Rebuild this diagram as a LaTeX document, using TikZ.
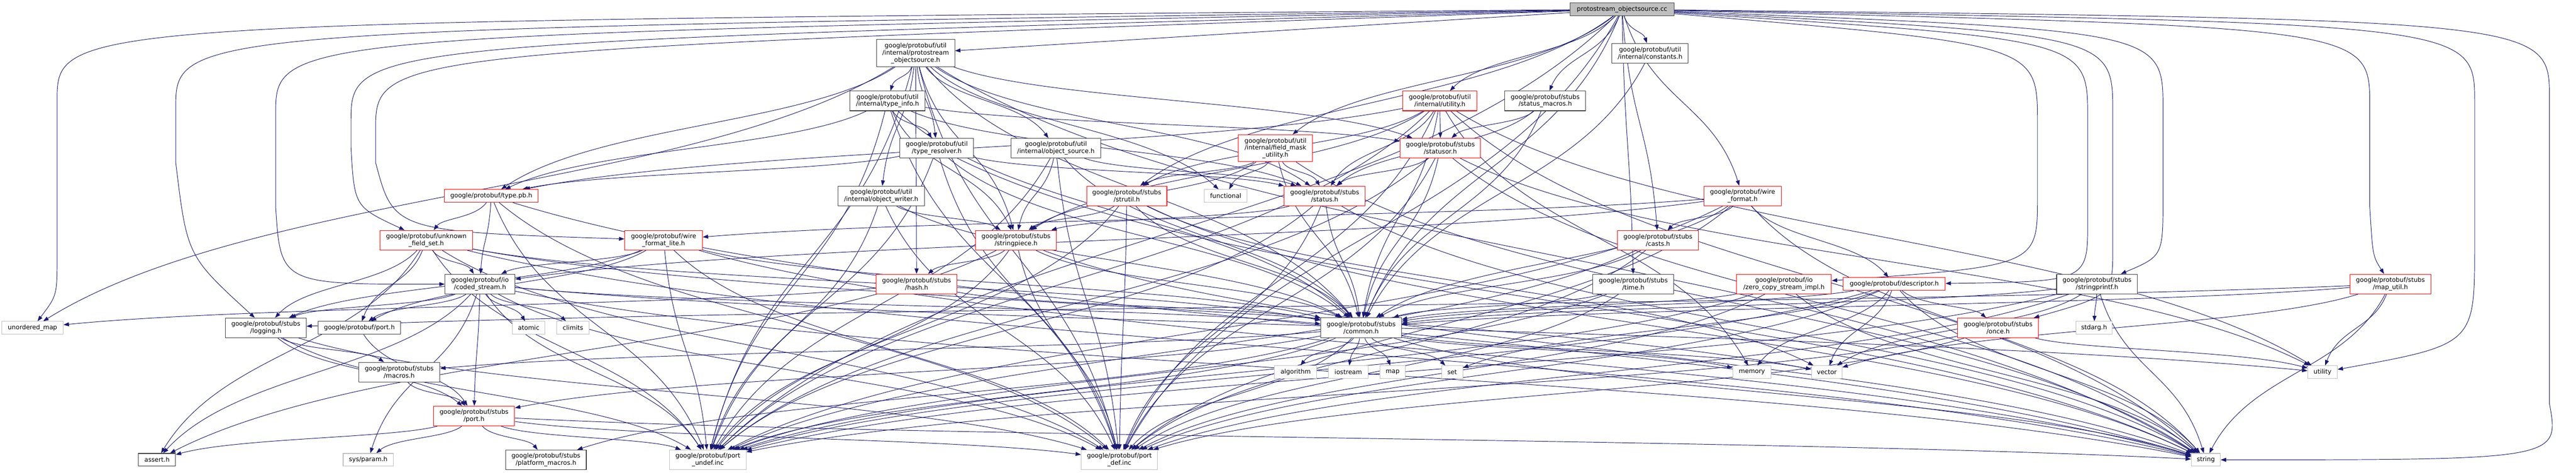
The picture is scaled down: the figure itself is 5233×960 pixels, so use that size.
\documentclass[tikz,border=0pt]{standalone}
\usepackage{fontspec}
\newfontfamily\nodefontfam{DejaVu Sans}
\newcommand\nodefont{\nodefontfam\fontsize{12.7}{14.3}\selectfont}
\usetikzlibrary{arrows.meta}
\definecolor{edgecol}{HTML}{191970}
\pgfdeclarelayer{bg}
\pgfsetlayers{bg,main}
\tikzset{
 box/.style={draw, rectangle, inner sep=0pt, align=center, font=\nodefont, line width=1.1pt, fill=white},
 blk/.style={box, draw=black!75},
 redb/.style={box, draw=red},
 gry/.style={box, draw=black!25},
 rootbox/.style={box, draw=black!75, fill=black!25},
 edge/.style={draw=edgecol, line width=1pt, -{Triangle[length=11pt,width=8pt]}},
}
\newcommand\Nd[7]{%
 \node[#6,minimum width=#4pt,minimum height=#5pt] (#1) at (#2,#3) {#7};%
 \expandafter\xdef\csname NX@#1\endcsname{#2}%
 \expandafter\xdef\csname NY@#1\endcsname{#3}}
\newcommand\Eget[2]{%
 \pgfmathsetmacro\Eax{\csname NX@#1\endcsname}%
 \pgfmathsetmacro\Eay{\csname NY@#1\endcsname}%
 \pgfmathsetmacro\Ebx{\csname NX@#2\endcsname}%
 \pgfmathsetmacro\Eby{\csname NY@#2\endcsname}}
% S-shaped edge between ranks
\newcommand\Ed[3][]{\Eget{#2}{#3}%
 \pgfmathsetmacro\Ecax{\Eax+0.25*(\Ebx-\Eax)}%
 \pgfmathsetmacro\Ecbx{\Ebx-0.25*(\Ebx-\Eax)}%
 \pgfmathsetmacro\Ecy{0.5*(\Eay+\Eby)}%
 \draw[edge,#1] (#2) .. controls (\Ecax,\Ecy) and (\Ecbx,\Ecy) .. (#3);}
% long edge: sideways from source, down a column, then into target
% #2 src, #3 tgt, #4 column x, #5 bottom of the straight part, #6 last control point, #7 height of the top run
\newcommand\Col[7][]{%
 \draw[edge,#1] (#2) .. controls (#4,#7) .. (#4,{#7+160}) -- (#4,#5) .. controls #6 .. (#3);}
\begin{document}
\begin{tikzpicture}[x=1pt,y=-1pt]
\useasboundingbox (0,0) rectangle (5233,960);
% nodes
\Nd{root}{3295}{19}{212}{26}{rootbox}{protostream\_objectsource.cc}
\Nd{psh}{1860}{108}{159}{55}{blk}{google/protobuf/util\\/internal/protostream\\\_objectsource.h}
\Nd{const}{3352}{108}{155}{40}{blk}{google/protobuf/util\\/internal/constants.h}
\Nd{util}{2925}{205}{151}{40}{redb}{google/protobuf/util\\/internal/utility.h}
\Nd{smac}{3139}{205}{164}{40}{blk}{google/protobuf/stubs\\/status\_macros.h}
\Nd{tinfo}{1803}{205}{153}{40}{blk}{google/protobuf/util\\/internal/type\_info.h}
\Nd{tres}{1903}{301}{150}{40}{blk}{google/protobuf/util\\/type\_resolver.h}
\Nd{osrc}{2145}{301}{183}{40}{blk}{google/protobuf/util\\/internal/object\_source.h}
\Nd{fmu}{2591}{301}{151}{55}{redb}{google/protobuf/util\\/internal/field\_mask\\\_utility.h}
\Nd{sor}{2926}{301}{163}{40}{redb}{google/protobuf/stubs\\/statusor.h}
\Nd{owr}{1790}{398}{176}{40}{blk}{google/protobuf/util\\/internal/object\_writer.h}
\Nd{typepb}{998}{398}{191}{26}{redb}{google/protobuf/type.pb.h}
\Nd{strutil}{2289}{398}{163}{40}{redb}{google/protobuf/stubs\\/strutil.h}
\Nd{func}{2490}{398}{87}{26}{gry}{functional}
\Nd{status}{2691}{398}{164}{40}{redb}{google/protobuf/stubs\\/status.h}
\Nd{wf}{3540}{398}{157}{40}{redb}{google/protobuf/wire\\\_format.h}
\Nd{ufs}{866}{488}{188}{40}{redb}{google/protobuf/unknown\\\_field\_set.h}
\Nd{wfl}{1348}{488}{158}{40}{redb}{google/protobuf/wire\\\_format\_lite.h}
\Nd{sp}{2064}{488}{164}{40}{redb}{google/protobuf/stubs\\/stringpiece.h}
\Nd{casts}{3368}{488}{164}{40}{redb}{google/protobuf/stubs\\/casts.h}
\Nd{cs}{975}{577}{142}{40}{blk}{google/protobuf/io\\/coded\_stream.h}
\Nd{hash}{1862}{577}{164}{40}{redb}{google/protobuf/stubs\\/hash.h}
\Nd{time}{3318}{577}{164}{40}{blk}{google/protobuf/stubs\\/time.h}
\Nd{zcs}{3624}{577}{193}{40}{redb}{google/protobuf/io\\/zero\_copy\_stream\_impl.h}
\Nd{desc}{3848}{577}{207}{26}{redb}{google/protobuf/descriptor.h}
\Nd{sprintf}{4260}{577}{164}{40}{blk}{google/protobuf/stubs\\/stringprintf.h}
\Nd{mutil}{4856}{577}{164}{40}{redb}{google/protobuf/stubs\\/map\_util.h}
\Nd{umap}{66}{666}{125}{26}{gry}{unordered\_map}
\Nd{log}{540}{666}{164}{40}{blk}{google/protobuf/stubs\\/logging.h}
\Nd{port}{730}{666}{167}{26}{blk}{google/protobuf/port.h}
\Nd{atomic}{1074}{666}{66}{26}{gry}{atomic}
\Nd{climits}{1164}{666}{66}{26}{gry}{climits}
\Nd{common}{2765}{666}{164}{41}{blk}{google/protobuf/stubs\\/common.h}
\Nd{once}{4059}{666}{164}{40}{redb}{google/protobuf/stubs\\/once.h}
\Nd{stdarg}{4254}{666}{73}{26}{gry}{stdarg.h}
\Nd{macros}{811}{756}{165}{40}{blk}{google/protobuf/stubs\\/macros.h}
\Nd{algorithm}{2632}{756}{86}{26}{gry}{algorithm}
\Nd{iostream}{2739}{756}{80}{26}{gry}{iostream}
\Nd{map}{2829}{756}{51}{26}{gry}{map}
\Nd{set}{2950}{756}{43}{26}{gry}{set}
\Nd{memory}{3559}{756}{78}{26}{gry}{memory}
\Nd{vector}{3711}{756}{62}{26}{gry}{vector}
\Nd{utility}{4718}{756}{60}{26}{gry}{utility}
\Nd{sport}{963}{845}{165}{40}{redb}{google/protobuf/stubs\\/port.h}
\Nd{assert}{319}{934}{75}{26}{blk}{assert.h}
\Nd{sysparam}{748}{934}{102}{26}{gry}{sys/param.h}
\Nd{pmac}{1109}{934}{164}{40}{blk}{google/protobuf/stubs\\/platform\_macros.h}
\Nd{pundef}{1438}{934}{155}{40}{gry}{google/protobuf/port\\\_undef.inc}
\Nd{pdef}{2274}{934}{155}{40}{gry}{google/protobuf/port\\\_def.inc}
\Nd{string}{4481}{934}{59}{26}{gry}{string}
\begin{pgfonlayer}{bg}
% root: long edges round the top
\Col{root}{umap}{116}{520}{(116,600)}{45}
\Col{root}{log}{357}{330}{(380,520)}{60}
\Col{root}{cs}{560}{420}{(570,578)}{72}
\Col{root}{ufs}{713}{300}{(720,420)}{88}
\Col{root}{wfl}{763}{330}{(800,470)}{105}
\Col{root}{zcs}{4139}{400}{(4139,540)}{90}
\Col{root}{desc}{4241}{450}{(4241,572)}{80}
\Col{root}{once}{4292}{500}{(4292,600)}{70}
\Col{root}{sprintf}{4394}{400}{(4394,520)}{62}
\Col{root}{mutil}{4814}{420}{(4820,520)}{55}
\Col{root}{utility}{5027}{500}{(5027,700)}{48}
\Col{root}{string}{5179}{820}{(5200,934)}{40}
\draw[edge] (root) -- (psh);
\Ed{root}{const}\Ed{root}{smac}\Ed{root}{util}\Ed{root}{fmu}\Ed{root}{strutil}
\Ed{root}{common}\Ed{root}{casts}\Ed{root}{wf}\Ed{root}{time}\Ed{root}{pdef}\Ed{root}{pundef}
% protostream_objectsource.h
\Ed{psh}{tinfo}\Ed{psh}{tres}\Ed{psh}{osrc}\Ed{psh}{owr}\Ed{psh}{hash}\Ed{psh}{sp}
\Ed{psh}{typepb}\Ed{psh}{status}\Ed{psh}{sor}\Ed{psh}{common}\Ed{psh}{func}
\Ed{psh}{pdef}\Ed{psh}{pundef}\Ed{psh}{umap}\Ed{psh}{string}
% type_info
\Ed{tinfo}{common}\Ed{tinfo}{typepb}\Ed{tinfo}{tres}\Ed{tinfo}{status}\Ed{tinfo}{sor}
\Ed{tinfo}{sp}\Ed{tinfo}{pdef}\Ed{tinfo}{pundef}
% type_resolver
\Ed{tres}{string}\Ed{tres}{typepb}\Ed{tres}{common}\Ed{tres}{status}\Ed{tres}{pdef}\Ed{tres}{pundef}
% object_source / object_writer
\Ed{osrc}{common}\Ed{osrc}{status}\Ed{osrc}{sp}\Ed{osrc}{pdef}\Ed{osrc}{pundef}
\Ed{owr}{common}\Ed{owr}{sp}\Ed{owr}{pdef}\Ed{owr}{pundef}
% util/internal/utility.h
\Ed{util}{string}\Ed{util}{utility}\Ed{util}{memory}\Ed{util}{common}\Ed{util}{typepb}
\Ed{util}{strutil}\Ed{util}{status}\Ed{util}{sor}\Ed{util}{sp}\Ed{util}{pdef}\Ed{util}{pundef}
% status_macros, constants
\Ed{smac}{common}\Ed{smac}{status}\Ed{smac}{sor}
\Ed{const}{common}
% field_mask_utility
\Ed{fmu}{func}\Ed{fmu}{string}\Ed{fmu}{common}\Ed{fmu}{strutil}\Ed{fmu}{sp}\Ed{fmu}{status}
% statusor, status
\Ed{sor}{status}\Ed{sor}{common}\Ed{sor}{string}\Ed{sor}{utility}\Ed{sor}{pdef}\Ed{sor}{pundef}
\Ed{status}{common}\Ed{status}{string}\Ed{status}{sp}\Ed{status}{pdef}\Ed{status}{pundef}
% strutil, stringpiece, hash
\Ed{strutil}{common}\Ed{strutil}{sp}\Ed{strutil}{vector}\Ed{strutil}{string}\Ed{strutil}{pdef}\Ed{strutil}{pundef}
\Ed{sp}{hash}\Ed{sp}{common}\Ed{sp}{string}\Ed{sp}{assert}\Ed{sp}{pdef}\Ed{sp}{pundef}
\Ed{hash}{common}\Ed{hash}{umap}
% type.pb.h
\Ed{typepb}{ufs}\Ed{typepb}{cs}\Ed{typepb}{pdef}\Ed{typepb}{pundef}\Ed{typepb}{string}
% unknown_field_set
\Ed{ufs}{assert}\Ed{ufs}{string}\Ed{ufs}{vector}\Ed{ufs}{common}\Ed{ufs}{log}
\Ed{ufs}{cs}\Ed{ufs}{port}\Ed{ufs}{pdef}\Ed{ufs}{pundef}
% wire_format_lite, wire_format
\Ed{wfl}{string}\Ed{wfl}{common}\Ed{wfl}{log}\Ed{wfl}{cs}\Ed{wfl}{port}\Ed{wfl}{pdef}\Ed{wfl}{pundef}
\Ed{wf}{string}\Ed{wf}{common}\Ed{wf}{cs}\Ed{wf}{desc}\Ed{wf}{casts}\Ed{wf}{wfl}\Ed{wf}{pdef}\Ed{wf}{pundef}
% casts, time, zero_copy_stream_impl
\Ed{casts}{common}\Ed{casts}{pdef}\Ed{casts}{pundef}
\Ed{time}{common}\Ed{time}{pdef}\Ed{time}{pundef}
\Ed{zcs}{string}\Ed{zcs}{common}\Ed{zcs}{pdef}\Ed{zcs}{pundef}
% descriptor
\Ed{desc}{memory}\Ed{desc}{set}\Ed{desc}{string}\Ed{desc}{vector}\Ed{desc}{common}
\Ed{desc}{once}\Ed{desc}{pdef}\Ed{desc}{pundef}
% stringprintf, map_util, once
\Ed{sprintf}{string}\Ed{sprintf}{vector}\Ed{sprintf}{stdarg}\Ed{sprintf}{common}\Ed{sprintf}{pdef}\Ed{sprintf}{pundef}
\Ed{mutil}{string}\Ed{mutil}{utility}\Ed{mutil}{vector}\Ed{mutil}{common}\Ed{mutil}{log}
\Ed{once}{utility}\Ed{once}{pdef}\Ed{once}{pundef}
% common
\Ed{common}{algorithm}\Ed{common}{iostream}\Ed{common}{map}\Ed{common}{set}\Ed{common}{memory}
\Ed{common}{vector}\Ed{common}{string}\Ed{common}{macros}\Ed{common}{pmac}\Ed{common}{sport}
\Ed{common}{pdef}\Ed{common}{pundef}
% logging
\Ed{log}{macros}\Ed{log}{sport}\Ed{log}{pdef}\Ed{log}{pundef}
% coded_stream
\Ed{cs}{assert}\Ed{cs}{atomic}\Ed{cs}{climits}\Ed{cs}{string}\Ed{cs}{utility}\Ed{cs}{common}
\Ed{cs}{log}\Ed{cs}{port}\Ed{cs}{sport}\Ed{cs}{pdef}\Ed{cs}{pundef}\Ed{cs}{sysparam}
% macros, port, stubs/port
\Ed{macros}{sport}
\Ed{port}{sport}
\Ed{sport}{assert}\Ed{sport}{sysparam}\Ed{sport}{pmac}\Ed{sport}{string}\Ed{sport}{pdef}\Ed{sport}{pundef}
\end{pgfonlayer}
\end{tikzpicture}
\end{document}
